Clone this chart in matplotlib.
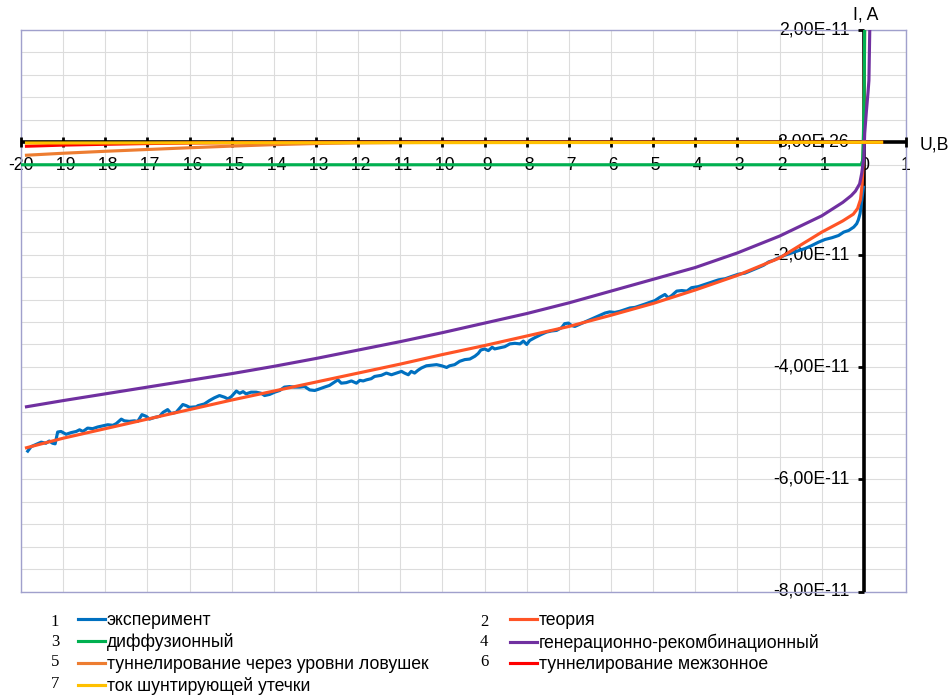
import matplotlib
matplotlib.use('Agg')
import matplotlib.pyplot as plt
import numpy as np
from matplotlib.lines import Line2D

plt.rcParams['font.family'] = ['Liberation Sans', 'DejaVu Sans']

# currents below are in units of 1e-11 A
SCALE = 1e-11
FS = 12.7

# 1 - experiment
u_exp = [-19.84, -19.76, -19.64, -19.52, -19.41, -19.33, -19.25, -19.19, -19.13, -19.05,
         -18.93, -18.81, -18.69, -18.61, -18.53, -18.42, -18.30, -18.18, -18.06, -17.94,
         -17.82, -17.74, -17.62, -17.55, -17.43, -17.31, -17.23, -17.13, -17.03, -16.95,
         -16.83, -16.71, -16.63, -16.52, -16.44, -16.32, -16.16, -16.08, -16.00, -15.84,
         -15.80, -15.65, -15.53, -15.41, -15.29, -15.17, -15.09, -15.01, -14.89, -14.81,
         -14.73, -14.66, -14.54, -14.42, -14.30, -14.22, -14.10, -13.98, -13.86, -13.75,
         -13.63, -13.51, -13.39, -13.27, -13.15, -13.03, -12.91, -12.80, -12.68, -12.56,
         -12.48, -12.40, -12.28, -12.16, -12.04, -11.96, -11.88, -11.80, -11.69,
         -11.61, -11.45, -11.33, -11.21, -11.09, -10.97, -10.90, -10.81, -10.74, -10.66,
         -10.58, -10.50, -10.38, -10.26, -10.14, -10.02, -9.90, -9.83, -9.71, -9.59,
         -9.47, -9.35, -9.23, -9.15, -9.09, -9.00, -8.91, -8.82, -8.76, -8.64,
         -8.52, -8.40, -8.28, -8.16, -8.08, -8.00, -7.93, -7.81, -7.65,
         -7.53, -7.41, -7.29, -7.17, -7.10, -7.01, -6.94, -6.86, -6.74, -6.62,
         -6.50, -6.38, -6.26, -6.14, -6.03, -5.91, -5.79, -5.67, -5.55, -5.43,
         -5.31, -5.19, -5.08, -4.96, -4.84, -4.72, -4.64, -4.56, -4.44, -4.32,
         -4.20, -4.09, -3.93, -3.77, -3.61, -3.45, -3.29, -3.14, -2.98, -2.82,
         -2.66, -2.50, -2.38, -2.26, -2.14, -2.03, -1.87, -1.71, -1.55, -1.39,
         -1.24, -1.08, -0.92, -0.76, -0.60, -0.48, -0.36, -0.24, -0.17, -0.13,
         -0.09, -0.05, -0.01]
i_exp = [-5.50, -5.42, -5.38, -5.34, -5.36, -5.32, -5.36, -5.37, -5.16, -5.15,
         -5.20, -5.17, -5.15, -5.12, -5.15, -5.09, -5.10, -5.07, -5.05, -5.03,
         -5.04, -5.01, -4.93, -4.96, -4.97, -4.96, -4.97, -4.85, -4.88, -4.93,
         -4.90, -4.88, -4.81, -4.76, -4.83, -4.81, -4.67, -4.69, -4.72, -4.71,
         -4.69, -4.66, -4.60, -4.55, -4.51, -4.54, -4.57, -4.53, -4.43, -4.47,
         -4.44, -4.48, -4.45, -4.45, -4.47, -4.51, -4.49, -4.45, -4.42, -4.36,
         -4.35, -4.36, -4.36, -4.35, -4.41, -4.42, -4.39, -4.36, -4.33, -4.27,
         -4.23, -4.29, -4.28, -4.25, -4.29, -4.24, -4.25, -4.23, -4.21,
         -4.17, -4.15, -4.11, -4.14, -4.11, -4.08, -4.11, -4.14, -4.08, -4.11,
         -4.06, -4.02, -3.98, -3.97, -3.96, -3.98, -4.01, -3.98, -3.96, -3.90,
         -3.87, -3.86, -3.81, -3.76, -3.70, -3.68, -3.71, -3.65, -3.68, -3.66,
         -3.64, -3.59, -3.58, -3.59, -3.54, -3.60, -3.53, -3.48, -3.42,
         -3.38, -3.36, -3.35, -3.30, -3.23, -3.22, -3.26, -3.28, -3.24, -3.20,
         -3.16, -3.12, -3.08, -3.04, -3.02, -3.03, -3.01, -2.98, -2.95, -2.94,
         -2.91, -2.88, -2.85, -2.82, -2.76, -2.71, -2.77, -2.73, -2.65, -2.64,
         -2.65, -2.59, -2.57, -2.53, -2.49, -2.45, -2.43, -2.39, -2.35, -2.33,
         -2.28, -2.23, -2.19, -2.13, -2.10, -2.06, -2.01, -1.97, -1.93, -1.89,
         -1.84, -1.78, -1.73, -1.70, -1.66, -1.60, -1.57, -1.51, -1.45, -1.38,
         -1.27, -1.03, -0.80]

# 2 - theory
u_th = [-19.87, -19, -18, -17, -16, -15, -14, -13, -12, -11, -10, -9, -8, -7, -6, -5,
        -4, -3, -2, -1, -0.5, -0.25, -0.15, -0.08, -0.04, -0.02, 0, 0.01, 0.02]
i_th = [-5.44, -5.27, -5.10, -4.93, -4.76, -4.59, -4.43, -4.27, -4.11, -3.95, -3.78,
        -3.62, -3.45, -3.28, -3.08, -2.87, -2.63, -2.37, -2.06, -1.60, -1.40, -1.28,
        -1.18, -1.02, -0.75, -0.40, 0.20, 1.10, 2.20]

# 3 - diffusion
u_diff = [-20, -0.06, -0.03, -0.01, 0.01, 0.02, 0.03]
i_diff = [-0.40, -0.40, -0.33, 0.15, 1.00, 2.20, 3.00]

# 4 - generation-recombination
u_gr = [-19.87, -19, -18, -17, -16, -15, -14, -13, -12, -11, -10, -9, -8, -7, -6, -5,
        -4, -3, -2, -1, -0.5, -0.3, -0.2, -0.1, -0.05, 0, 0.02, 0.06, 0.1, 0.12, 0.14, 0.15]
i_gr = [-4.71, -4.60, -4.48, -4.36, -4.24, -4.12, -3.99, -3.85, -3.70, -3.55, -3.39,
        -3.22, -3.05, -2.86, -2.65, -2.44, -2.23, -1.97, -1.67, -1.31, -1.07, -0.95,
        -0.87, -0.74, -0.55, -0.27, 0.16, 0.55, 0.90, 1.10, 2.00, 2.60]

# 5 - trap-assisted tunnelling
u_trap = [-19.87, -19, -18, -17, -16, -15, -14, -13, -12, -11, -10, -8, 0, 0.42]
i_trap = [-0.23, -0.195, -0.16, -0.128, -0.097, -0.068, -0.042, -0.022, -0.010,
          -0.004, -0.001, 0, 0, 0]

# 6 - band-to-band tunnelling
u_btb = [-19.87, -19, -18, -17, -16, -15, -14, -12, -10, 0, 0.42]
i_btb = [-0.07, -0.05, -0.035, -0.022, -0.013, -0.007, -0.003, -0.001, 0, 0, 0]

# 7 - shunt leakage
u_sh = [-19.87, -15, -10, -5, 0, 0.42]
i_sh = [-0.012, -0.009, -0.006, -0.003, 0, 0.0003]

series = [
    (u_exp, i_exp, '#0070C0', 'эксперимент'),
    (u_th, i_th, '#FF5426', 'теория'),
    (u_diff, i_diff, '#00B050', 'диффузионный'),
    (u_gr, i_gr, '#7030A0', 'генерационно-рекомбинационный'),
    (u_trap, i_trap, '#ED7D31', 'туннелирование через уровни ловушек'),
    (u_btb, i_btb, '#FF0000', 'туннелирование межзонное'),
    (u_sh, i_sh, '#FFC000', 'ток шунтирующей утечки'),
]

x_ticks = list(range(-20, 2))
y_major = [2e-11, 0, -2e-11, -4e-11, -6e-11, -8e-11]
y_labels = ['2,00E-11', '3,00E-26', '-2,00E-11', '-4,00E-11', '-6,00E-11', '-8,00E-11']

fig = plt.figure(figsize=(9.49, 6.98), dpi=100)
ax = fig.add_axes([21 / 949, 1 - 591.5 / 698, 885 / 949, 561.5 / 698])
ax.set_xlim(-20, 1)
ax.set_ylim(-8e-11, 2e-11)
ax.set_xticks(x_ticks)
ax.set_yticks(np.linspace(-8e-11, 2e-11, 26))
ax.tick_params(length=0, labelbottom=False, labelleft=False)
ax.grid(color='#DCDCDC', lw=0.8)
ax.set_axisbelow(True)
for s in ax.spines.values():
    s.set_color('#A0A0CC')
    s.set_linewidth(1)

# axes crossing at the origin
ax.plot([-20, 1], [0, 0], color='black', lw=2.6, zorder=3, solid_capstyle='butt')
ax.plot([0, 0], [-8e-11, 2e-11], color='black', lw=2.6, zorder=3, solid_capstyle='butt')
ax.plot(x_ticks, [0] * len(x_ticks), ls='none', marker='|', ms=6.5, mew=2,
        color='black', zorder=3, clip_on=False)
ax.plot([0] * len(y_major), y_major, ls='none', marker=0, ms=4, mew=2,
        color='black', zorder=3, clip_on=False)

for v in x_ticks:
    ax.annotate(str(v), (v, 0), xytext=(0, -16.8), textcoords='offset points',
                ha='center', va='center', fontsize=FS, zorder=2.5)
for v, lab in zip(y_major, y_labels):
    ax.annotate(lab, (0, v), xytext=(-10.5, 0), textcoords='offset points',
                ha='right', va='center', fontsize=FS, zorder=2.5, annotation_clip=False)

handles = []
for k, (u, i, c, lab) in enumerate(series):
    ax.plot(u, np.array(i) * SCALE, color=c, lw=2.25, zorder=4 + k)
    handles.append(Line2D([], [], color=c, lw=2.25, label=lab))

fig.text(866 / 949, 1 - 15 / 698, 'I, A', ha='center', va='center', fontsize=FS)
fig.text(920 / 949, 1 - 145 / 698, 'U,B', ha='left', va='center', fontsize=FS)

leg_kw = dict(loc='upper left', frameon=False, borderpad=0, borderaxespad=0,
              handlelength=1.53, handletextpad=0.11, labelspacing=0.25, fontsize=FS)
fig.legend(handles=[handles[0], handles[2], handles[4], handles[6]],
           bbox_to_anchor=(78 / 949, 1 - 612 / 698), **leg_kw)
fig.legend(handles=[handles[1], handles[3], handles[5]],
           bbox_to_anchor=(510 / 949, 1 - 612 / 698), **leg_kw)

for num, x, y in [('1', 55, 622), ('3', 55, 642), ('5', 55, 662), ('7', 55, 684),
                  ('2', 484, 622), ('4', 484, 642), ('6', 484, 662)]:
    fig.text(x / 949, 1 - y / 698, num, family='Liberation Serif', fontsize=12,
             ha='center', va='center')

fig.savefig('out.png', dpi=100)
